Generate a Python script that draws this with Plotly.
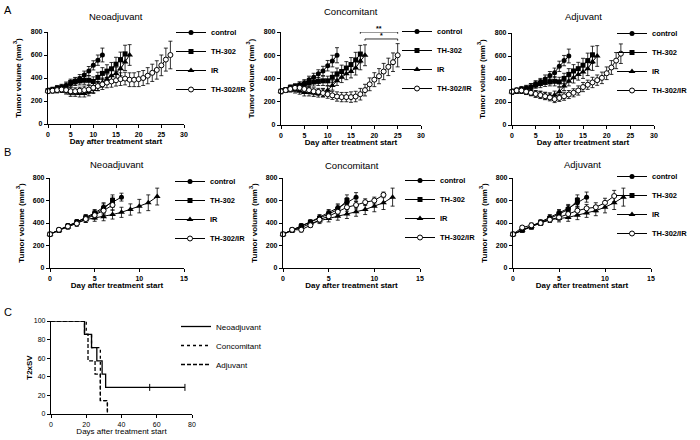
import plotly.graph_objects as go

W, H = 700, 440
FONT = "Liberation Sans, Arial, sans-serif"

DAYS = [0, 1, 2, 3, 4, 5, 6, 7, 8, 9, 10, 11, 12, 13, 14, 15, 16, 17, 18, 19,
        20, 21, 22, 23, 24, 25, 26, 27]
GROUPS = ["control", "TH-302", "IR", "TH-302/IR"]
PANEL_TITLES = ["Neoadjuvant", "Concomitant", "Adjuvant"]

# ---------- Panel A : tumour volume (mm3) ----------
A_NEO_CTRL = [290, 300, 310, 320, 335, 350, 370, 395, 425, 460, 510, 555, 600]
A_NEO_CTRL_SEM = [20, 20, 25, 25, 30, 30, 30, 35, 35, 40, 40, 45, 60]
A_NEO_TH = [290, 295, 305, 315, 325, 360, 370, 375, 380, 380, 370, 405, 440, 460, 480, 520, 560, 610]
A_NEO_TH_SEM = [20, 20, 25, 25, 30, 30, 35, 35, 35, 40, 40, 45, 50, 55, 55, 60, 65, 75]
A_NEO_IR = [290, 290, 300, 300, 285, 270, 270, 265, 265, 280, 300, 330, 360, 390, 420, 440, 480, 540, 600]
A_NEO_IR_SEM = [20, 20, 25, 25, 25, 30, 30, 30, 30, 35, 35, 40, 40, 45, 50, 55, 60, 75, 90]
A_NEO_THIR = [285, 290, 295, 300, 295, 285, 285, 290, 295, 300, 315, 330, 345, 360, 370, 380, 390, 395,
              385, 385, 390, 400, 420, 445, 470, 510, 560, 600]
A_NEO_THIR_SEM = [20, 20, 25, 25, 25, 30, 30, 30, 35, 35, 40, 40, 45, 45, 50, 50, 55, 55, 60, 60,
                  65, 65, 70, 75, 80, 90, 100, 120]

A_CON_CTRL = [290, 300, 315, 325, 340, 360, 390, 410, 440, 465, 510, 550, 600]
A_CON_CTRL_SEM = [20, 20, 25, 25, 30, 30, 30, 35, 35, 40, 45, 50, 65]
A_CON_TH = [290, 300, 320, 330, 340, 350, 360, 370, 375, 380, 380, 410, 440, 460, 490, 520, 560, 610]
A_CON_TH_SEM = [20, 20, 25, 25, 30, 30, 35, 35, 35, 40, 40, 45, 50, 55, 55, 60, 65, 75]
A_CON_IR = [290, 300, 310, 300, 290, 280, 280, 275, 270, 280, 300, 340, 380, 410, 440, 460, 490, 550, 600]
A_CON_IR_SEM = [20, 20, 25, 25, 25, 30, 30, 30, 30, 35, 35, 40, 40, 45, 50, 55, 60, 75, 90]
A_CON_THIR = [290, 300, 310, 320, 320, 310, 300, 290, 285, 275, 265, 255, 245, 240, 240, 240, 245, 265,
              300, 350, 390, 420, 460, 500, 540, 600]
A_CON_THIR_SEM = [20, 20, 25, 25, 25, 30, 30, 30, 30, 35, 35, 35, 40, 40, 40, 45, 45, 50, 50, 55,
                  60, 65, 70, 75, 80, 100]

A_ADJ_CTRL = [290, 300, 310, 320, 330, 355, 375, 400, 430, 455, 510, 560, 600]
A_ADJ_CTRL_SEM = [20, 20, 25, 25, 30, 30, 30, 35, 35, 40, 45, 45, 60]
A_ADJ_TH = [290, 295, 305, 315, 330, 350, 360, 370, 375, 380, 375, 405, 440, 470, 490, 520, 560, 610]
A_ADJ_TH_SEM = [20, 20, 25, 25, 30, 30, 35, 35, 35, 40, 40, 45, 50, 55, 55, 60, 65, 75]
A_ADJ_IR = [290, 300, 300, 290, 280, 270, 265, 255, 250, 260, 290, 340, 380, 410, 440, 460, 490, 550, 600]
A_ADJ_IR_SEM = [20, 20, 25, 25, 25, 30, 30, 30, 30, 35, 35, 40, 40, 45, 50, 55, 60, 75, 90]
A_ADJ_THIR = [290, 300, 300, 290, 280, 270, 260, 250, 240, 225, 235, 250, 265, 280, 300, 330, 350, 370,
              390, 410, 450, 500, 560, 620]
A_ADJ_THIR_SEM = [20, 20, 25, 25, 25, 25, 30, 30, 30, 30, 30, 35, 35, 35, 40, 40, 40, 45, 45, 50,
                  55, 60, 70, 85]

# significance brackets (Concomitant, panel A)
SIG_START = [12, 17, 18]
SIG_END = [25, 25, 25]
SIG_LEVEL = [860, 800, 740]
SIG_LABEL = ["**", "**", "*"]

# ---------- Panel B : tumour volume (mm3) ----------
B_NEO_CTRL = [300, 340, 375, 410, 450, 490, 540, 585, 630]
B_NEO_CTRL_SEM = [15, 15, 20, 20, 25, 30, 40, 45, 35]
B_NEO_TH = [300, 335, 370, 405, 445, 480, 525, 600]
B_NEO_TH_SEM = [15, 15, 20, 25, 25, 30, 45, 50]
B_NEO_IR = [300, 335, 365, 400, 430, 445, 455, 475, 495, 520, 550, 580, 635]
B_NEO_IR_SEM = [15, 15, 20, 20, 25, 30, 35, 40, 45, 50, 60, 70, 75]
B_NEO_THIR = [300, 340, 370, 395, 435, 470, 510, 560]
B_NEO_THIR_SEM = [15, 15, 20, 25, 30, 35, 40, 45]

B_CON_CTRL = [300, 340, 375, 410, 450, 490, 535, 580, 630]
B_CON_CTRL_SEM = [15, 15, 20, 20, 25, 30, 35, 45, 40]
B_CON_TH = [300, 335, 370, 405, 440, 480, 520, 600]
B_CON_TH_SEM = [15, 15, 20, 20, 25, 30, 40, 50]
B_CON_IR = [300, 335, 360, 395, 420, 440, 460, 480, 500, 520, 550, 580, 630]
B_CON_IR_SEM = [15, 15, 20, 20, 25, 30, 35, 40, 40, 45, 50, 60, 80]
B_CON_THIR = [300, 340, 340, 380, 430, 460, 500, 540, 560, 585, 600, 650]
B_CON_THIR_SEM = [15, 15, 20, 20, 25, 25, 30, 35, 35, 30, 30, 25]

B_ADJ_CTRL = [300, 340, 370, 410, 450, 490, 530, 580, 630]
B_ADJ_CTRL_SEM = [15, 15, 20, 20, 25, 30, 35, 45, 45]
B_ADJ_TH = [300, 335, 365, 400, 440, 480, 520, 600]
B_ADJ_TH_SEM = [15, 15, 20, 20, 25, 30, 35, 50]
B_ADJ_IR = [300, 335, 370, 400, 430, 440, 450, 470, 490, 510, 540, 580, 630]
B_ADJ_IR_SEM = [15, 15, 20, 20, 25, 30, 35, 40, 40, 45, 50, 60, 80]
B_ADJ_THIR = [300, 360, 380, 400, 430, 450, 480, 510, 530, 540, 580, 640]
B_ADJ_THIR_SEM = [15, 15, 20, 20, 25, 25, 30, 35, 35, 40, 40, 50]

# ---------- Panel C : Kaplan-Meier (T2xSV, %) ----------
KM_NAMES = ["Neoadjuvant", "Concomitant", "Adjuvant"]
KM_NEO_T = [0, 19, 23, 26, 29, 31, 76]
KM_NEO_S = [100, 85.7, 71.4, 57.1, 42.9, 28.6, 28.6]
KM_NEO_CENSOR_T = [56, 76]
KM_NEO_CENSOR_S = [28.6, 28.6]
KM_CON_T = [0, 20, 23, 28, 32]
KM_CON_S = [100, 85.7, 71.4, 14.3, 0]
KM_ADJ_T = [0, 19, 21, 25, 28, 32]
KM_ADJ_S = [100, 85.7, 57.1, 42.9, 14.3, 0]

# ------------------------------------------------------------------
def px_x(px):
    return px / W


def px_y(py):
    return 1 - py / H


# subplot boxes in pixels: left, right, top, bottom
BOXES = {
    1: (48, 184, 32, 124), 2: (281, 421, 32, 125), 3: (512, 654, 33, 125),
    4: (50, 184, 178, 268), 5: (283, 420, 178, 268), 6: (513, 651, 178, 268),
    7: (51, 192, 321, 414),
}
# legend anchors (left, top) in pixels
LEG_POS = {
    1: (171, 18), 2: (397, 17), 3: (612, 19),
    4: (170, 167), 5: (400, 166), 6: (612, 162),
    7: (176, 312),
}

MARKERS = {
    "control": dict(symbol="circle", size=5, color="black"),
    "TH-302": dict(symbol="square", size=5, color="black"),
    "IR": dict(symbol="triangle-up", size=6, color="black"),
    "TH-302/IR": dict(symbol="circle", size=5, color="white", line=dict(color="black", width=1)),
}

PANELS = {
    1: [(A_NEO_CTRL, A_NEO_CTRL_SEM), (A_NEO_TH, A_NEO_TH_SEM), (A_NEO_IR, A_NEO_IR_SEM), (A_NEO_THIR, A_NEO_THIR_SEM)],
    2: [(A_CON_CTRL, A_CON_CTRL_SEM), (A_CON_TH, A_CON_TH_SEM), (A_CON_IR, A_CON_IR_SEM), (A_CON_THIR, A_CON_THIR_SEM)],
    3: [(A_ADJ_CTRL, A_ADJ_CTRL_SEM), (A_ADJ_TH, A_ADJ_TH_SEM), (A_ADJ_IR, A_ADJ_IR_SEM), (A_ADJ_THIR, A_ADJ_THIR_SEM)],
    4: [(B_NEO_CTRL, B_NEO_CTRL_SEM), (B_NEO_TH, B_NEO_TH_SEM), (B_NEO_IR, B_NEO_IR_SEM), (B_NEO_THIR, B_NEO_THIR_SEM)],
    5: [(B_CON_CTRL, B_CON_CTRL_SEM), (B_CON_TH, B_CON_TH_SEM), (B_CON_IR, B_CON_IR_SEM), (B_CON_THIR, B_CON_THIR_SEM)],
    6: [(B_ADJ_CTRL, B_ADJ_CTRL_SEM), (B_ADJ_TH, B_ADJ_TH_SEM), (B_ADJ_IR, B_ADJ_IR_SEM), (B_ADJ_THIR, B_ADJ_THIR_SEM)],
}


def sfx(k):
    return "" if k == 1 else str(k)


fig = go.Figure()

for k, series in PANELS.items():
    for name, (vals, sem) in zip(GROUPS, series):
        fig.add_trace(go.Scatter(
            x=DAYS[:len(vals)], y=vals, name=name,
            mode="lines+markers",
            line=dict(color="black", width=1),
            marker=MARKERS[name],
            error_y=dict(type="data", array=sem, color="black", thickness=0.8, width=2),
            xaxis="x" + sfx(k), yaxis="y" + sfx(k), legend="legend" + sfx(k),
            cliponaxis=False,
        ))

# significance brackets on the Concomitant panel
CAP = 15
for s, e, lvl, lab in zip(SIG_START, SIG_END, SIG_LEVEL, SIG_LABEL):
    fig.add_trace(go.Scatter(
        x=[s, s, e, e], y=[lvl - CAP, lvl, lvl, lvl - CAP], mode="lines",
        line=dict(color="black", width=0.8), showlegend=False, hoverinfo="skip",
        xaxis="x2", yaxis="y2", cliponaxis=False,
    ))
    fig.add_annotation(x=(s + e) / 2, y=lvl, xref="x2", yref="y2", text=lab,
                       showarrow=False, yanchor="bottom", yshift=-2,
                       font=dict(size=7, family=FONT, color="black", weight="bold"))

# Kaplan-Meier
KM_DASH = ["solid", "dot", "4px,2px"]
for name, t, s, dash in zip(KM_NAMES, [KM_NEO_T, KM_CON_T, KM_ADJ_T],
                            [KM_NEO_S, KM_CON_S, KM_ADJ_S], KM_DASH):
    fig.add_trace(go.Scatter(
        x=t, y=s, name=name, mode="lines", line=dict(color="black", width=1.3, dash=dash, shape="hv"),
        xaxis="x7", yaxis="y7", legend="legend7", cliponaxis=False,
    ))
fig.add_trace(go.Scatter(
    x=KM_NEO_CENSOR_T, y=KM_NEO_CENSOR_S, mode="markers", showlegend=False,
    marker=dict(symbol="line-ns-open", size=5, color="black", line=dict(color="black", width=1)),
    xaxis="x7", yaxis="y7", cliponaxis=False,
))

# ---------------- layout ----------------
tick_bold = dict(size=7, family=FONT, color="black", weight="bold")
tick_reg = dict(size=7, family=FONT, color="black")
title_bold = dict(size=8, family=FONT, color="black", weight="bold")

layout = dict(
    width=W, height=H, margin=dict(l=0, r=0, t=0, b=0, autoexpand=False),
    paper_bgcolor="white", plot_bgcolor="white", showlegend=True,
    font=dict(family=FONT, color="black"),
)

for k, (l, r, t, b) in BOXES.items():
    common = dict(showline=True, linewidth=1.2, linecolor="black", ticks="outside", ticklen=3,
                  tickwidth=1, tickcolor="black", showgrid=False, zeroline=False)
    if k <= 3:
        xr, xt, yr, yt = [0, 30], [0, 5, 10, 15, 20, 25, 30], [0, 800], [0, 200, 400, 600, 800]
        xtitle, ytitle = "Day after treatment start", "Tumor volume (mm<sup>3</sup>)"
        tf, ttf, ystand = tick_bold, title_bold, 8
    elif k <= 6:
        xr, xt, yr, yt = [0, 15], [0, 5, 10, 15], [0, 800], [0, 200, 400, 600, 800]
        xtitle, ytitle = "Day after treatment start", "Tumor volume (mm<sup>3</sup>)"
        tf, ttf, ystand = tick_bold, title_bold, 7
    else:
        xr, xt, yr, yt = [0, 80], [0, 20, 40, 60, 80], [0, 100], [0, 20, 40, 60, 80, 100]
        xtitle, ytitle = "Days after treatment start", "T2xSV"
        tf, ttf, ystand = tick_reg, dict(size=8, family=FONT, color="black"), 0
    layout["xaxis" + sfx(k)] = dict(
        common, domain=[px_x(l), px_x(r)], anchor="y" + sfx(k), range=xr, tickvals=xt,
        tickfont=tf, title=dict(text=xtitle, font=ttf, standoff=1))
    layout["yaxis" + sfx(k)] = dict(
        common, domain=[px_y(b), px_y(t)], anchor="x" + sfx(k), range=yr, tickvals=yt,
        tickfont=tf,
        title=dict(text=ytitle, font=(title_bold if k == 7 else ttf), standoff=ystand))

for k, (lx, ty) in LEG_POS.items():
    layout["legend" + sfx(k)] = dict(
        x=px_x(lx), y=px_y(ty), xanchor="left", yanchor="top", bgcolor="rgba(0,0,0,0)",
        font=(dict(size=7.5, family=FONT, color="black", weight="bold") if k < 7
              else dict(size=8, family=FONT, color="black")),
        itemwidth=30, tracegroupgap=0)

fig.update_layout(**layout)

# panel letters and subplot titles
for lab, py in zip(["A", "B", "C"], [10, 152, 312]):
    fig.add_annotation(x=px_x(2), y=px_y(py), xref="paper", yref="paper", text=lab,
                       showarrow=False, xanchor="left", yanchor="middle",
                       font=dict(size=11, family=FONT, color="black"))

TITLE_Y = {1: 17, 2: 12, 3: 17, 4: 164, 5: 165, 6: 164}
for k in range(1, 7):
    l, r, _, _ = BOXES[k]
    fig.add_annotation(x=px_x((l + r) / 2), y=px_y(TITLE_Y[k]), xref="paper", yref="paper",
                       text=PANEL_TITLES[(k - 1) % 3], showarrow=False,
                       xanchor="center", yanchor="middle",
                       font=dict(size=9.5, family=FONT, color="black"))

fig.write_html("out.html", config={"displayModeBar": False},
               post_script="document.body.style.margin='0';document.body.style.overflow='hidden';")
